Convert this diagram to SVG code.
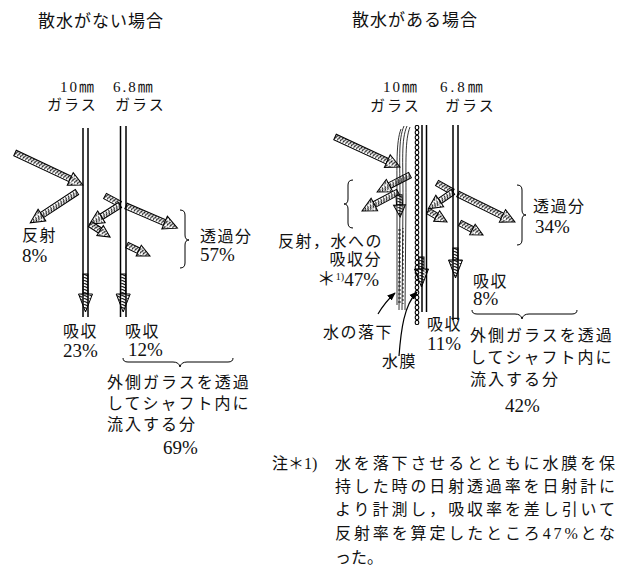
<svg xmlns="http://www.w3.org/2000/svg" width="625" height="569" viewBox="0 0 625 569">
  <style>
    .t { font-family: "Liberation Serif", "Noto Sans CJK JP", serif; fill: #111; }
    .title { font-size: 17px; letter-spacing: 1px; }
    .lbl { font-size: 16px; letter-spacing: 1.5px; }
    .blk { font-size: 16px; letter-spacing: 2px; }
    .num { font-size: 19px; }
    .gl { font-size: 15px; letter-spacing: 2px; }
    .note { font-size: 16px; }
    .pane { stroke: #000; stroke-width: 1.5; fill: none; }
    .ray { fill: url(#hatch); stroke: #000; stroke-width: 1; stroke-linejoin: miter; }
    .brace { fill: none; stroke: #000; stroke-width: 1; }
    .lead { fill: none; stroke: #000; stroke-width: 1.2; marker-end: url(#tip); }
    .film { stroke: #000; stroke-width: 0.8; fill: none; }
  </style>
  <defs>
    <!-- slanted rungs for the hatched radiation arrows (rotates with each arrow) -->
    <pattern id="hatch" patternUnits="userSpaceOnUse" x="0" y="-3" width="3" height="6">
      <rect width="3" height="6" fill="#fff"/>
      <path d="M-0.6,6 L2.4,0" stroke="#000" stroke-width="1.1"/>
    </pattern>
    <!-- beaded water film -->
    <pattern id="chain" patternUnits="userSpaceOnUse" x="414" y="125" width="6" height="5">
      <ellipse cx="3" cy="2.5" rx="1.8" ry="2.2" fill="none" stroke="#000" stroke-width="1.1"/>
    </pattern>
    <!-- falling water streaks -->
    <pattern id="drip" patternUnits="userSpaceOnUse" x="397" y="225" width="8" height="4">
      <path d="M1,1 h3 M5,3 h2" stroke="#000" stroke-width="0.9"/>
    </pattern>
    <marker id="tip" viewBox="0 0 10 10" refX="9" refY="5" markerWidth="7" markerHeight="7" orient="auto">
      <path d="M0,1 L10,5 L0,9 Z" fill="#000"/>
    </marker>
  </defs>
  <rect width="625" height="569" fill="#fff"/>

  <!-- headings -->
  <g id="titles">
    <text class="t title" x="38" y="27">散水がない場合</text>
    <text class="t title" x="352" y="26">散水がある場合</text>
  </g>

  <!-- hatched radiation arrows -->
  <g id="connectors">
    <!-- without spraying -->
    <g transform="translate(15,153) rotate(25.2)"><rect class="ray" x="0" y="-3" width="61" height="6"/><path class="ray" d="M61,-7 L75,0 L61,7 Z"/></g>
    <g transform="translate(77,192) rotate(146.6)"><rect class="ray" x="0" y="-3" width="42" height="6"/><path class="ray" d="M42,-7 L56,0 L42,7 Z"/></g>
    <g transform="translate(105,196) rotate(28)"><rect class="ray" x="0" y="-3" width="17" height="6"/></g>
    <g transform="translate(120,205) rotate(147.7)"><rect class="ray" x="0" y="-3" width="22" height="6"/><path class="ray" d="M22,-7 L36,0 L22,7 Z"/></g>
    <g transform="translate(126,206) rotate(23.3)"><rect class="ray" x="0" y="-3" width="42" height="6"/><path class="ray" d="M42,-7 L56,0 L42,7 Z"/></g>
    <g transform="translate(90,224) rotate(33)"><rect class="ray" x="0" y="-3" width="12" height="6"/><path class="ray" d="M12,-6 L24,0 L12,6 Z"/></g>
    <g transform="translate(127,245) rotate(25.6)"><rect class="ray" x="0" y="-3" width="13" height="6"/><path class="ray" d="M13,-6 L25.5,0 L13,6 Z"/></g>
    <g transform="translate(85.5,274) rotate(90)"><rect class="ray" x="0" y="-2.5" width="20" height="5"/><path class="ray" d="M20,-7 L38,0 L20,7 Z"/></g>
    <g transform="translate(123.2,274) rotate(90)"><rect class="ray" x="0" y="-2.5" width="20" height="5"/><path class="ray" d="M20,-7 L38,0 L20,7 Z"/></g>

    <!-- with spraying -->
    <g transform="translate(335,137) rotate(24.8)"><rect class="ray" x="0" y="-3" width="57.6" height="6"/><path class="ray" d="M57.6,-7 L71.6,0 L57.6,7 Z"/></g>
    <g transform="translate(410,175) rotate(152.7)"><rect class="ray" x="0" y="-3" width="23" height="6"/><path class="ray" d="M23,-7 L37,0 L23,7 Z"/></g>
    <g transform="translate(398,192) rotate(152.2)"><rect class="ray" x="0" y="-3" width="26.7" height="6"/><path class="ray" d="M26.7,-7 L40.7,0 L26.7,7 Z"/></g>
    <g transform="translate(399,195) rotate(87)"><rect class="ray" x="0" y="-3" width="10" height="6"/><path class="ray" d="M10,-6 L22,0 L10,6 Z"/></g>
    <g transform="translate(437,183) rotate(29.4)"><rect class="ray" x="0" y="-3" width="18" height="6"/></g>
    <g transform="translate(453,192) rotate(145.8)"><rect class="ray" x="0" y="-3" width="16" height="6"/><path class="ray" d="M16,-7 L30,0 L16,7 Z"/></g>
    <g transform="translate(458,194) rotate(26.2)"><rect class="ray" x="0" y="-3" width="49.5" height="6"/><path class="ray" d="M49.5,-7 L63.5,0 L49.5,7 Z"/></g>
    <g transform="translate(428,211) rotate(30)"><rect class="ray" x="0" y="-3" width="10" height="6"/><path class="ray" d="M10,-6 L22,0 L10,6 Z"/></g>
    <g transform="translate(460,223) rotate(27.6)"><rect class="ray" x="0" y="-3" width="14" height="6"/><path class="ray" d="M14,-6 L26,0 L14,6 Z"/></g>
    <g transform="translate(455.5,248) rotate(90)"><rect class="ray" x="0" y="-2.5" width="12" height="5"/><path class="ray" d="M12,-7 L30,0 L12,7 Z"/></g>
    <g transform="translate(421.5,257) rotate(90)"><rect class="ray" x="0" y="-2.5" width="12" height="5"/><path class="ray" d="M12,-7 L30,0 L12,7 Z"/></g>

    <!-- leader lines to the water labels -->
    <path class="lead" d="M378,314 Q385,302 395,293"/>
    <path class="lead" d="M399,356 C401,330 404,305 417,292"/>
  </g>

  <!-- glass panes, left pair -->
  <g id="pane-10mm-dry">
    <line class="pane" x1="83" y1="128" x2="83" y2="317"/>
    <line class="pane" x1="88" y1="128" x2="88" y2="317"/>
  </g>
  <g id="pane-6.8mm-dry">
    <line class="pane" x1="120.5" y1="126" x2="120.5" y2="317"/>
    <line class="pane" x1="126" y1="126" x2="126" y2="317"/>
  </g>

  <!-- glass panes, right pair with falling water and water film -->
  <g id="water-fall">
    <path class="film" d="M404,126 C398,140 400,160 400,200 L399,310"/>
    <path class="film" d="M407,126 C401,140 403,160 403,200 L402,310"/>
    <path class="film" d="M410,127 C405,140 406,160 406,200 L405,310"/>
    <path class="film" d="M401,129 C396,142 397,165 397,200 L397,305"/>
    <rect x="397" y="228" width="9" height="76" fill="url(#drip)"/>
  </g>
  <g id="water-film">
    <rect x="414" y="125" width="6" height="200" fill="url(#chain)"/>
  </g>
  <g id="pane-10mm-wet">
    <line class="pane" x1="422" y1="125" x2="422" y2="312"/>
    <line class="pane" x1="426.5" y1="125" x2="426.5" y2="312"/>
  </g>
  <g id="pane-6.8mm-wet">
    <line class="pane" x1="453" y1="125" x2="453" y2="320"/>
    <line class="pane" x1="458" y1="125" x2="458" y2="320"/>
  </g>

  <!-- braces -->
  <g id="braces">
    <path class="brace" d="M180,210 q5,0 5,5 v20 q0,5 4,5 q-4,0 -4,5 v18 q0,5 -5,5"/>
    <path class="brace" d="M123,358 q0,4 5,4 h45 q6,0 7,5 q1,-5 7,-5 h41 q5,0 5,-4"/>
    <path class="brace" d="M517,185 q5,0 5,5 v20 q0,5 4,5 q-4,0 -4,5 v20 q0,5 -5,5"/>
    <path class="brace" d="M353,180 q-5,0 -5,5 v14 q0,5 -4,5 q4,0 4,5 v14 q0,5 5,5"/>
    <path class="brace" d="M472,310 q0,4 5,4 h38 q6,0 7,5 q1,-5 7,-5 h43 q5,0 5,-4"/>
  </g>

  <!-- labels: without spraying -->
  <g id="labels-dry">
    <text class="t gl" x="60" y="92">10㎜</text>
    <text class="t gl" x="113" y="92">6.8㎜</text>
    <text class="t gl" x="47" y="110">ガラス</text>
    <text class="t gl" x="115" y="110">ガラス</text>
    <text class="t lbl" x="22" y="241">反射</text>
    <text class="t num" x="22" y="262">8%</text>
    <text class="t lbl" x="200" y="242">透過分</text>
    <text class="t num" x="200" y="261">57%</text>
    <text class="t lbl" x="63" y="337">吸収</text>
    <text class="t num" x="63" y="357">23%</text>
    <text class="t lbl" x="125" y="337">吸収</text>
    <text class="t num" x="128" y="356">12%</text>
    <text class="t blk" x="107" y="388">外側ガラスを透過</text>
    <text class="t blk" x="107" y="409">してシャフト内に</text>
    <text class="t blk" x="107" y="430">流入する分</text>
    <text class="t num" x="163" y="454">69%</text>
  </g>

  <!-- labels: with spraying -->
  <g id="labels-wet">
    <text class="t gl" x="383" y="92">10㎜</text>
    <text class="t gl" x="440" y="92" style="letter-spacing:3px">6.8㎜</text>
    <text class="t gl" x="370" y="111">ガラス</text>
    <text class="t gl" x="445" y="111">ガラス</text>
    <text class="t lbl" x="533" y="212">透過分</text>
    <text class="t num" x="535" y="233">34%</text>
    <text class="t lbl" x="383" y="247" text-anchor="end">反射，水への</text>
    <text class="t lbl" x="382" y="265" text-anchor="end">吸収分</text>
    <text class="t num" x="379" y="286" text-anchor="end">＊<tspan font-size="10" dy="-6">1)</tspan><tspan dy="6">47%</tspan></text>
    <text class="t lbl" x="473" y="287">吸収</text>
    <text class="t num" x="473" y="305">8%</text>
    <text class="t lbl" x="323" y="338">水の落下</text>
    <text class="t lbl" x="382" y="367">水膜</text>
    <text class="t lbl" x="427" y="330">吸収</text>
    <text class="t num" x="427" y="350">11%</text>
    <text class="t blk" x="470" y="341">外側ガラスを透過</text>
    <text class="t blk" x="470" y="363">してシャフト内に</text>
    <text class="t blk" x="470" y="385">流入する分</text>
    <text class="t num" x="505" y="412">42%</text>
  </g>

  <!-- footnote -->
  <g id="footnote">
    <text class="t note" x="272" y="469">注＊1)</text>
    <text class="t note" x="335" y="469" textLength="280" lengthAdjust="spacing">水を落下させるとともに水膜を保</text>
    <text class="t note" x="335" y="492" textLength="280" lengthAdjust="spacing">持した時の日射透過率を日射計に</text>
    <text class="t note" x="335" y="515" textLength="280" lengthAdjust="spacing">より計測し，吸収率を差し引いて</text>
    <text class="t note" x="335" y="539" textLength="280" lengthAdjust="spacing">反射率を算定したところ47%とな</text>
    <text class="t note" x="335" y="563">った。</text>
  </g>
</svg>
